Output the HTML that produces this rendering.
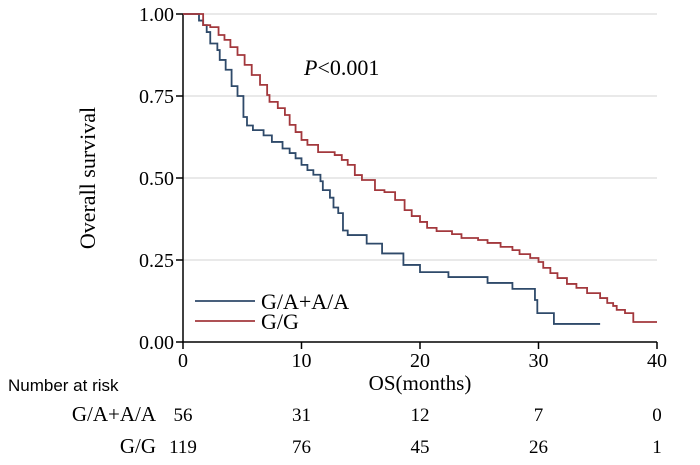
<!DOCTYPE html>
<html><head><meta charset="utf-8"><style>
body{margin:0;background:#fff;width:700px;height:460px;overflow:hidden}
svg text{font-family:"Liberation Serif",serif;fill:#000}
</style></head><body>
<svg id="chart" width="700" height="460" xmlns="http://www.w3.org/2000/svg"></svg>
<script>
const xTicks=[0,10,20,30,40];
const yTicks=[0,0.25,0.5,0.75,1.0];
const yTickLabels=["0.00","0.25","0.50","0.75","1.00"];
const blueT=[0,1.35,1.7,2.0,2.3,2.9,3.1,3.6,4.1,4.6,5.1,5.4,5.9,6.8,7.5,8.4,9.0,9.5,10.0,10.5,11.0,11.6,11.8,12.4,12.7,13.1,13.5,13.9,15.5,16.8,18.6,20.0,22.4,25.7,27.8,29.7,29.9,31.3];
const blueS=[1,.98,.966,.945,.91,.89,.86,.83,.78,.75,.686,.66,.646,.63,.61,.59,.576,.56,.54,.524,.51,.49,.463,.44,.41,.393,.34,.326,.30,.27,.235,.213,.198,.18,.162,.128,.088,.055];
const blueEnd=35.2;
const redT=[0,1.7,2.3,3.0,3.5,4.0,4.6,5.2,5.8,6.5,7.1,7.3,8.0,8.6,9.0,9.5,10.0,10.5,11.4,12.8,13.4,13.9,14.5,15.1,16.2,17.0,17.9,18.7,19.3,20.0,20.6,21.4,22.7,23.5,24.9,25.7,26.8,27.8,28.4,29.3,30.0,30.4,31.0,31.6,32.4,33.2,34.1,35.2,35.8,36.3,36.6,37.3,38.0];
const redS=[1,.966,.960,.936,.921,.899,.875,.845,.814,.784,.753,.732,.713,.692,.662,.640,.616,.601,.579,.570,.555,.540,.509,.494,.463,.457,.433,.402,.384,.366,.348,.338,.329,.317,.311,.302,.290,.280,.268,.256,.244,.226,.210,.195,.177,.165,.149,.134,.119,.110,.098,.088,.061];
const redEnd=40;
const riskGroups=["G/A+A/A","G/G"];
const riskBlue=[56,31,12,7,0];
const riskRed=[119,76,45,26,1];

const svg=document.getElementById('chart');
const NS='http://www.w3.org/2000/svg';
const X0=183,X1=657,Y0=342,Y1=14;
const xs=t=>X0+(X1-X0)*t/40;
const ys=s=>Y0-(Y0-Y1)*s;
function mk(tag,attrs,txt){const e=document.createElementNS(NS,tag);for(const k in attrs)e.setAttribute(k,attrs[k]);if(txt!==undefined)e.textContent=txt;svg.appendChild(e);return e;}

yTicks.forEach((v,i)=>{
  if(v>0){const g=mk('line',{x1:X0,x2:X1,y1:ys(v),y2:ys(v),stroke:'#e2e2e2','stroke-width':1.5});
  
  }
  const t=mk('line',{x1:X0-7,x2:X0,y1:ys(v),y2:ys(v),stroke:'#000','stroke-width':1.5});
  
  
  const l=mk('text',{x:X0-9,y:ys(v)+7,'text-anchor':'end','font-size':20},yTickLabels[i]);
  
  
});
xTicks.forEach(v=>{
  const t=mk('line',{x1:xs(v),x2:xs(v),y1:Y0,y2:Y0+7,stroke:'#000','stroke-width':1.5});
  
  
  const l=mk('text',{x:xs(v),y:Y0+25,'text-anchor':'middle','font-size':20},String(v));
  
  
});
const ax=mk('path',{d:`M${X0} ${Y1}V${Y0}H${X1}`,fill:'none',stroke:'#000','stroke-width':1.5});



function stepPath(T,S,end){let d=`M${xs(T[0])} ${ys(S[0])}`;for(let i=1;i<T.length;i++){d+=`H${xs(T[i])}V${ys(S[i])}`;}d+=`H${xs(end)}`;return d;}
const bl=mk('path',{d:stepPath(blueT,blueS,blueEnd),fill:'none',stroke:'#2f4a6a','stroke-width':1.8});


const rl=mk('path',{d:stepPath(redT,redS,redEnd),fill:'none',stroke:'#a3383d','stroke-width':1.8});



const yt=mk('text',{x:0,y:0,'text-anchor':'middle','font-size':22,transform:'translate(95,178) rotate(-90)'},'Overall survival');


const xt=mk('text',{x:420,y:390,'text-anchor':'middle','font-size':21},'OS(months)');


const p=mk('text',{x:304,y:75,'font-size':22});


p.innerHTML='<tspan font-style="italic">P</tspan>&lt;0.001';

const colors=['#2f4a6a','#a3383d'];
riskGroups.forEach((g,i)=>{
  const y=301+i*20;
  const ln=mk('line',{x1:195,x2:255,y1:y,y2:y,stroke:colors[i],'stroke-width':1.8});
  
  
  const tx=mk('text',{x:261,y:y+8,'font-size':22},g);
  
  
});

const nr=mk('text',{x:8,y:391,'font-size':17,style:'font-family:"Liberation Sans",sans-serif'},'Number at risk');


[riskBlue,riskRed].forEach((arr,i)=>{
  const y=421+i*32;
  const lab=mk('text',{x:156,y:y,'text-anchor':'end','font-size':21},riskGroups[i]);
  
  
  arr.forEach((n,j)=>{
    const c=mk('text',{x:xs(xTicks[j]),y:y,'text-anchor':'middle','font-size':19},String(n));
    
    
  });
});
</script>
</body></html>
